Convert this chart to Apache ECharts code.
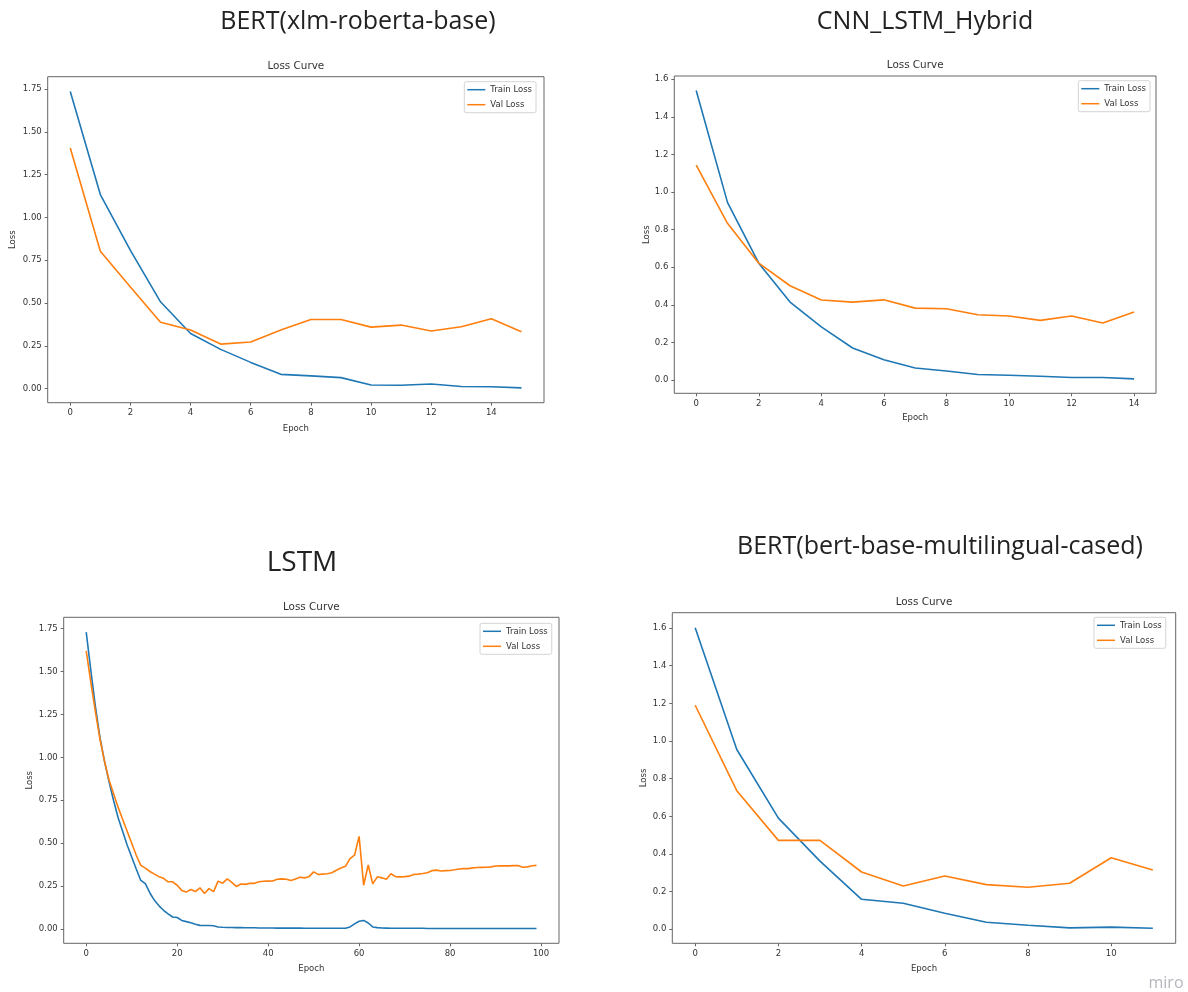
<!DOCTYPE html>
<html>
<head>
<meta charset="utf-8">
<title>Loss Curves</title>
<script src="https://cdn.jsdelivr.net/npm/echarts@6/dist/echarts.min.js"></script>
<style>
  html, body { margin: 0; padding: 0; background: #fff; }
  #main { width: 1188px; height: 992px; }
</style>
</head>
<body>
<div id="main"></div>
<script>
// names above each panel
var modelNames = ['BERT(xlm-roberta-base)', 'CNN_LSTM_Hybrid', 'LSTM', 'BERT(bert-base-multilingual-cased)']
var seriesNames = ['Train Loss', 'Val Loss']

// BERT(xlm-roberta-base)
var xlmTrain = [1.736, 1.134, 0.808, 0.507, 0.322, 0.229, 0.153, 0.083, 0.074, 0.064, 0.021, 0.019, 0.027, 0.012, 0.011, 0.004]
var xlmVal = [1.406, 0.802, 0.594, 0.388, 0.342, 0.260, 0.272, 0.342, 0.404, 0.404, 0.359, 0.371, 0.336, 0.361, 0.408, 0.332]
var xlmXTicks = [0, 2, 4, 6, 8, 10, 12, 14]
var xlmYTicks = [0, 0.25, 0.5, 0.75, 1.0, 1.25, 1.5, 1.75]

// CNN_LSTM_Hybrid
var cnnTrain = [1.540, 0.945, 0.622, 0.415, 0.283, 0.171, 0.109, 0.065, 0.049, 0.030, 0.026, 0.021, 0.014, 0.014, 0.007]
var cnnVal = [1.143, 0.834, 0.622, 0.502, 0.426, 0.415, 0.427, 0.383, 0.380, 0.348, 0.341, 0.318, 0.341, 0.304, 0.362]
var cnnXTicks = [0, 2, 4, 6, 8, 10, 12, 14]
var cnnYTicks = [0, 0.2, 0.4, 0.6, 0.8, 1.0, 1.2, 1.4, 1.6]

// LSTM (100 epochs)
var lstmTrain = [
  1.73, 1.51, 1.30, 1.12, 0.98, 0.86, 0.75, 0.65, 0.57, 0.49,
  0.42, 0.35, 0.283, 0.264, 0.21, 0.167, 0.135, 0.109, 0.088, 0.07,
  0.067, 0.05, 0.043, 0.036, 0.028, 0.021, 0.02, 0.02, 0.019, 0.012,
  0.010, 0.009, 0.009, 0.008, 0.008, 0.007, 0.007, 0.007, 0.006, 0.006,
  0.006, 0.006, 0.005, 0.005, 0.005, 0.005, 0.005, 0.005, 0.004, 0.004,
  0.004, 0.004, 0.004, 0.004, 0.004, 0.004, 0.004, 0.004, 0.012, 0.03,
  0.045, 0.05, 0.035, 0.012, 0.008, 0.006, 0.005, 0.004, 0.004, 0.004,
  0.004, 0.004, 0.004, 0.004, 0.004, 0.003, 0.003, 0.003, 0.003, 0.003,
  0.003, 0.003, 0.003, 0.003, 0.003, 0.003, 0.003, 0.003, 0.003, 0.003,
  0.003, 0.003, 0.003, 0.003, 0.003, 0.003, 0.003, 0.003, 0.003, 0.003
]
var lstmVal = [
  1.62, 1.44, 1.27, 1.11, 0.98, 0.87, 0.79, 0.71, 0.64, 0.57,
  0.50, 0.43, 0.371, 0.355, 0.335, 0.32, 0.305, 0.295, 0.275, 0.275,
  0.255, 0.225, 0.215, 0.23, 0.218, 0.24, 0.207, 0.235, 0.218, 0.279,
  0.267, 0.292, 0.272, 0.248, 0.262, 0.26, 0.267, 0.266, 0.275, 0.278,
  0.279, 0.28, 0.29, 0.292, 0.29, 0.283, 0.292, 0.302, 0.298, 0.305,
  0.333, 0.318, 0.32, 0.322, 0.328, 0.342, 0.355, 0.365, 0.41, 0.43,
  0.54, 0.255, 0.373, 0.263, 0.304, 0.298, 0.29, 0.322, 0.305, 0.304,
  0.305, 0.308, 0.318, 0.32, 0.323, 0.328, 0.34, 0.343, 0.338, 0.34,
  0.341, 0.345, 0.35, 0.352, 0.352, 0.356, 0.358, 0.359, 0.36, 0.362,
  0.367, 0.368, 0.368, 0.368, 0.369, 0.369, 0.36, 0.362, 0.369, 0.371
]
var lstmXTicks = [0, 20, 40, 60, 80, 100]
var lstmYTicks = [0, 0.25, 0.5, 0.75, 1.0, 1.25, 1.5, 1.75]

// BERT(bert-base-multilingual-cased)
var mbertTrain = [1.602, 0.955, 0.590, 0.362, 0.159, 0.138, 0.085, 0.037, 0.021, 0.007, 0.011, 0.005]
var mbertVal = [1.190, 0.736, 0.472, 0.472, 0.304, 0.230, 0.283, 0.237, 0.223, 0.244, 0.380, 0.315]
var mbertXTicks = [0, 2, 4, 6, 8, 10]
var mbertYTicks = [0, 0.2, 0.4, 0.6, 0.8, 1.0, 1.2, 1.4, 1.6]

var lineColors = ['#1f77b4', '#ff7f0e']
var smallFont = 'DejaVu Sans'
var bigFont = 'Open Sans'
var inkColor = '#333'
var frameColor = '#666'

// box = [left, top, width, height] of the plot frame
var panels = [
  { name: modelNames[0], train: xlmTrain, val: xlmVal, xTicks: xlmXTicks, yTicks: xlmYTicks, digits: 2,
    box: [47.7, 76.7, 496.3, 326], head: [358, 22, 25], legend: [464.3, 81.7], epochGap: 21.5, lossGap: 30 },
  { name: modelNames[1], train: cnnTrain, val: cnnVal, xTicks: cnnXTicks, yTicks: cnnYTicks, digits: 1,
    box: [674.3, 76, 481.7, 317.3], head: [925, 22, 25], legend: [1078.3, 80.7], epochGap: 19.5, lossGap: 23 },
  { name: modelNames[2], train: lstmTrain, val: lstmVal, xTicks: lstmXTicks, yTicks: lstmYTicks, digits: 2,
    box: [63.7, 617.3, 495.3, 326], head: [302, 563, 28], legend: [480, 623.3], epochGap: 21, lossGap: 29 },
  { name: modelNames[3], train: mbertTrain, val: mbertVal, xTicks: mbertXTicks, yTicks: mbertYTicks, digits: 1,
    box: [672.3, 612.7, 503.4, 330.6], head: [940, 547, 25], legend: [1094, 617.3], epochGap: 21, lossGap: 24 }
]

var grids = [], xAxes = [], yAxes = [], series = [], legends = [], texts = []

panels.forEach(function (p, i) {
  var n = p.train.length
  var all = p.train.concat(p.val)
  var lo = Math.min.apply(null, all)
  var hi = Math.max.apply(null, all)
  var padY = (hi - lo) * 0.05
  var padX = (n - 1) * 0.05

  grids.push({
    left: p.box[0], top: p.box[1], width: p.box[2], height: p.box[3],
    show: true, borderColor: frameColor, borderWidth: 1, backgroundColor: '#fff'
  })

  xAxes.push({
    gridIndex: i,
    type: 'value',
    position: 'bottom',
    min: -padX,
    max: n - 1 + padX,
    axisLine: { show: false, onZero: false },
    axisTick: { show: true, inside: false, length: 3, customValues: p.xTicks, lineStyle: { color: frameColor } },
    axisLabel: { customValues: p.xTicks, margin: 6, fontFamily: smallFont, fontSize: 8.5, color: inkColor },
    splitLine: { show: false },
    name: 'Epoch',
    nameLocation: 'middle',
    nameGap: p.epochGap,
    nameTextStyle: { fontFamily: smallFont, fontSize: 8.5, color: inkColor }
  })

  yAxes.push({
    gridIndex: i,
    type: 'value',
    position: 'left',
    min: lo - padY,
    max: hi + padY,
    axisLine: { show: false, onZero: false },
    axisTick: { show: true, inside: false, length: 3, customValues: p.yTicks, lineStyle: { color: frameColor } },
    axisLabel: {
      customValues: p.yTicks, margin: 6, fontFamily: smallFont, fontSize: 8.5, color: inkColor,
      formatter: (function (d) { return function (v) { return v.toFixed(d) } })(p.digits)
    },
    splitLine: { show: false },
    name: 'Loss',
    nameLocation: 'middle',
    nameGap: p.lossGap,
    nameTextStyle: { fontFamily: smallFont, fontSize: 8.5, color: inkColor }
  })

  ;[p.train, p.val].forEach(function (arr, k) {
    series.push({
      name: seriesNames[k],
      type: 'line',
      xAxisIndex: i,
      yAxisIndex: i,
      showSymbol: false,
      symbol: 'none',
      lineStyle: { color: lineColors[k], width: 1.6 },
      itemStyle: { color: lineColors[k] },
      data: arr.map(function (v, e) { return [e, v] })
    })
  })

  legends.push({
    data: seriesNames,
    orient: 'vertical',
    left: p.legend[0],
    top: p.legend[1],
    icon: 'rect',
    itemWidth: 18,
    itemHeight: 1.5,
    itemGap: 5,
    padding: [3, 4, 3, 3],
    backgroundColor: 'rgba(255,255,255,0.8)',
    borderColor: '#d4d4d4',
    borderWidth: 1,
    borderRadius: 2,
    selectedMode: false,
    textStyle: { fontFamily: smallFont, fontSize: 8.5, color: inkColor, lineHeight: 10 }
  })

  // big model name
  texts.push({
    type: 'text', x: p.head[0], y: p.head[1],
    style: { text: p.name, font: p.head[2] + 'px "' + bigFont + '"', fill: '#222', textAlign: 'center', textVerticalAlign: 'middle' }
  })
  // small plot title
  texts.push({
    type: 'text', x: p.box[0] + p.box[2] / 2, y: p.box[1] - 10.5,
    style: { text: 'Loss Curve', font: '10.4px "' + smallFont + '"', fill: inkColor, textAlign: 'center', textVerticalAlign: 'middle' }
  })
})

texts.push({
  type: 'text', x: 1166, y: 983,
  style: { text: 'miro', font: '16px "' + bigFont + '"', fill: '#b6b6be', textAlign: 'center', textVerticalAlign: 'middle' }
})

var myChart = echarts.init(document.getElementById('main'), null, { renderer: 'canvas' })
myChart.setOption({
  animation: false,
  backgroundColor: '#fff',
  grid: grids,
  xAxis: xAxes,
  yAxis: yAxes,
  legend: legends,
  graphic: texts,
  series: series
})
</script>
</body>
</html>
